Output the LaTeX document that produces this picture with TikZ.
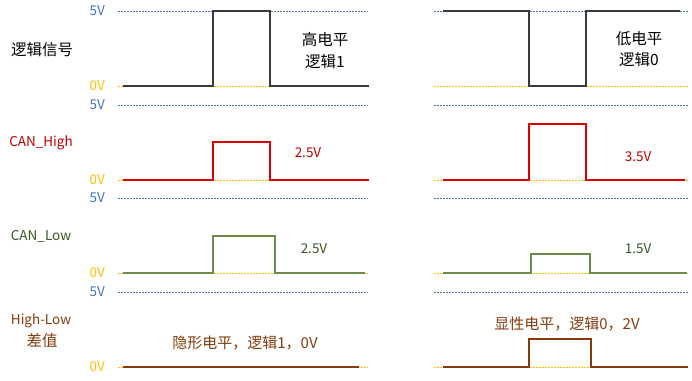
\documentclass[tikz,border=0pt]{standalone}
\usepackage{fontspec}
\setmainfont{Noto Sans CJK SC}
\definecolor{refblue}{HTML}{4472C4}
\definecolor{refyel}{HTML}{FFC000}
\definecolor{sigblack}{HTML}{3A3A3A}
\definecolor{sigred}{HTML}{E00000}
\definecolor{txtred}{HTML}{C00000}
\definecolor{siggreen}{HTML}{6F8A4F}
\definecolor{txtgreen}{HTML}{375623}
\definecolor{sigbrown}{HTML}{843C0C}
\tikzset{
  fivev/.style={draw=refblue,line width=1pt,dash pattern=on 2pt off 1pt},
  zerov/.style={draw=refyel,line width=1pt,dash pattern=on 2pt off 1pt},
  wave/.style={line width=1.2pt,line join=miter},
  vlab/.style={anchor=east,font=\fontsize{13.5}{15}\selectfont,inner sep=0pt},
  cjklab/.style={font=\fontsize{15.5}{18}\selectfont,inner sep=0pt,align=center},
  smlab/.style={font=\fontsize{13.5}{15}\selectfont,inner sep=0pt},
  desclab/.style={font=\fontsize{15}{17}\selectfont,inner sep=0pt,text=sigbrown},
}
\begin{document}
\begin{tikzpicture}[x=1pt,y=-1pt]
\useasboundingbox (0,0) rectangle (692,380);
% reference levels
\foreach \t/\b in {11/86,105/180,198/273,292/367}{
  \draw[fivev] (118,\t) -- (368,\t);
  \draw[fivev] (434,\t) -- (689,\t);
  \draw[zerov] (118,\b) -- (368,\b);
  \draw[zerov] (434,\b) -- (689,\b);
  \node[vlab,text=refblue] at (105,\t) {5V};
  \node[vlab,text=refyel] at (105,\b) {0V};
}
% logic signal
\draw[wave,sigblack] (123,86) -- (213,86) -- (213,11) -- (270,11) -- (270,86) -- (369,86);
\draw[wave,sigblack] (443,11) -- (529,11) -- (529,86) -- (586,86) -- (586,11) -- (680,11);
% CAN_High
\draw[wave,sigred] (123,180) -- (213,180) -- (213,142) -- (270,142) -- (270,180) -- (369,180);
\draw[wave,sigred] (443,180) -- (529,180) -- (529,124) -- (586,124) -- (586,180) -- (685,180);
% CAN_Low
\draw[wave,siggreen] (123,273) -- (213,273) -- (213,236) -- (275,236) -- (275,273) -- (365,273);
\draw[wave,siggreen] (443,273) -- (531,273) -- (531,254) -- (590,254) -- (590,273) -- (687,273);
% difference
\draw[wave,sigbrown] (123,367) -- (359,367);
\draw[wave,sigbrown] (443,367) -- (529,367) -- (529,339) -- (591,339) -- (591,367) -- (688,367);
% labels
\node[cjklab] (lsig) at (42,50) {逻辑信号};
\node[cjklab] (hi1) at (325,40) {高电平};
\node[cjklab] (hi2) at (325,62) {逻辑1};
\node[cjklab] (lo1) at (639,39) {低电平};
\node[cjklab] (lo2) at (639,60) {逻辑0};
\node[smlab,text=txtred] (canh) at (41,143) {CAN\_High};
\node[smlab,text=txtred] (h25) at (308,153) {2.5V};
\node[smlab,text=txtred] (h35) at (638,157) {3.5V};
\node[smlab,text=txtgreen] (canl) at (41,236) {CAN\_Low};
\node[smlab,text=txtgreen] (l25) at (314,249) {2.5V};
\node[smlab,text=txtgreen] (l15) at (638,249) {1.5V};
\node[smlab,text=sigbrown] (hl) at (41,321) {High-Low};
\node[cjklab,text=sigbrown] (diff) at (42,341) {差值};
\node[desclab] (rec) at (245,343) {隐形电平，逻辑1，0V};
\node[desclab] (dom) at (567,324) {显性电平，逻辑0，2V};
\end{tikzpicture}
\end{document}
